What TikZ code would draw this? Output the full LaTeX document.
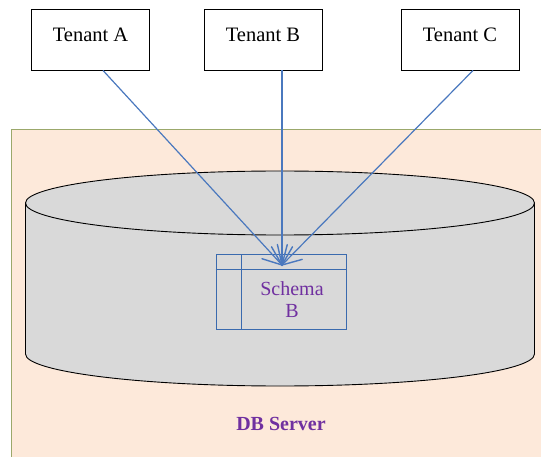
\documentclass[tikz,border=0pt]{standalone}
\usepackage{fontspec}
\setmainfont{Liberation Serif}
\usetikzlibrary{calc}
\definecolor{peach}{HTML}{FDE9DA}
\definecolor{olive}{HTML}{9BA86B}
\definecolor{cylgray}{HTML}{D9D9D9}
\definecolor{linkblue}{HTML}{4A78BE}
\definecolor{schemablue}{HTML}{3A6AAE}
\definecolor{purp}{HTML}{7030A0}
\tikzset{
  tenant/.style={draw=black, line width=0.9pt, fill=white, minimum width=118pt, minimum height=61pt, inner sep=0pt, font=\rmfamily\fontsize{20.5}{23}\selectfont, text height=14pt, text depth=9pt},
  schemabox/.style={draw=schemablue, line width=0.9pt, minimum width=130pt, minimum height=75pt, inner sep=0pt},
  link/.style={draw=linkblue, line width=1.2pt, line join=round},
  barb/.style={draw=linkblue, line width=1.4pt, line cap=round, line join=miter},
  purptext/.style={text=purp, font=\rmfamily\fontsize{20}{23}\selectfont, inner sep=0pt}
}
\begin{document}
\begin{tikzpicture}[x=1pt,y=-1pt]
\useasboundingbox (0,0) rectangle (541,457);
\clip (0,0) rectangle (541,457);
% server background
\draw[fill=peach, draw=olive, line width=1pt] (11.5,129.5) rectangle (560,470);
% cylinder
\fill[cylgray] (25.5,203) -- (25.5,354) arc[start angle=180, end angle=0, x radius=254.5, y radius=32] -- (534.5,203) arc[start angle=0, end angle=-180, x radius=254.5, y radius=32] -- cycle;
\draw[line width=0.9pt] (25.5,203) -- (25.5,354) arc[start angle=180, end angle=0, x radius=254.5, y radius=32] -- (534.5,203);
\draw[line width=0.9pt] (280,203) ellipse[x radius=254.5, y radius=32];
% schema table
\node[schemabox] (S) at (281,292) {};
\draw[schemablue, line width=0.9pt] ([xshift=26pt]S.north west) -- ([xshift=26pt]S.south west);
\draw[schemablue, line width=0.9pt] ([yshift=-15pt]S.north west) -- ([yshift=-15pt]S.north east);
\node[purptext, align=center] (st) at (292,300) {Schema\\[-1pt]B};
% tenants
\node[tenant] (A) at (90.5,39.5) {Tenant A};
\node[tenant] (B) at (263,39.5) {Tenant B};
\node[tenant] (C) at (460,39.5) {Tenant C};
\coordinate (tip) at (282,265);
\coordinate (a0) at ([xshift=12.5pt]A.south);
\coordinate (b0) at ([xshift=19pt]B.south);
\coordinate (c0) at ([xshift=13pt]C.south);
\foreach \s in {a0,b0,c0}{
  \draw[link] (\s) -- (tip);
  \draw[barb] ($(tip)!21pt!30:(\s)$) -- (tip) -- ($(tip)!21pt!-30:(\s)$);
}
% label
\node[purptext, font=\rmfamily\fontsize{20}{23}\selectfont\bfseries] (db) at (281,424) {DB Server};
\end{tikzpicture}
\end{document}
